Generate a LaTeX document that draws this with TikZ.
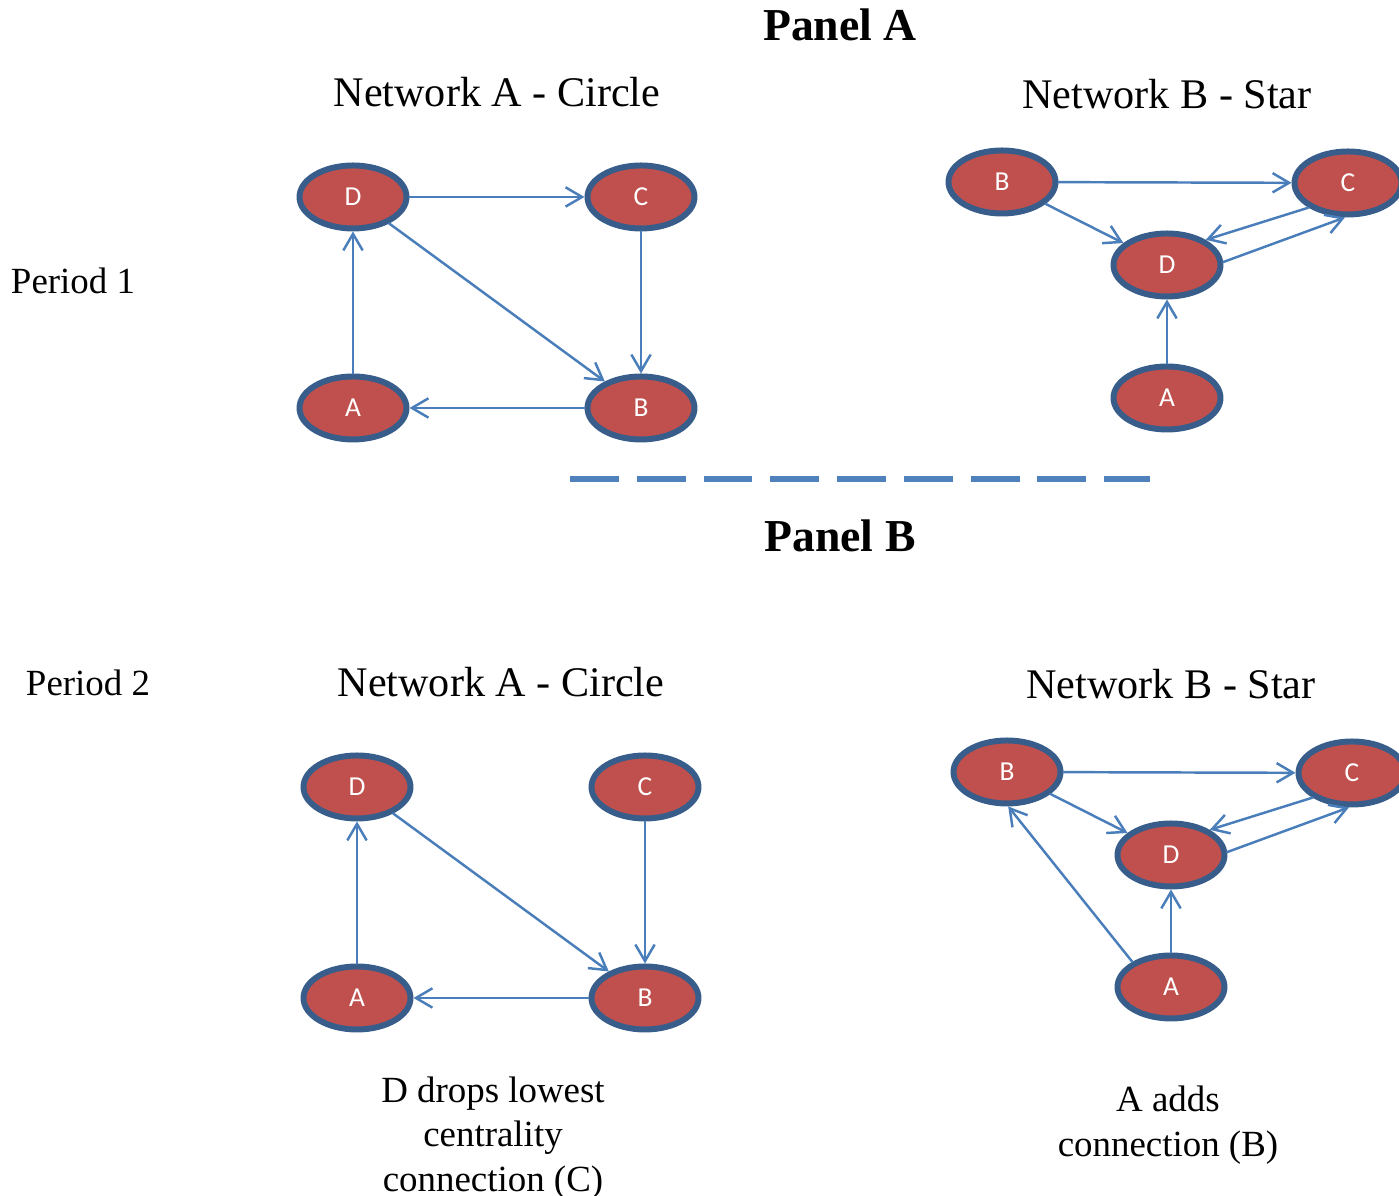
\documentclass[tikz,border=0pt]{standalone}
\usepackage{fontspec}
\setmainfont{Liberation Serif}
\newfontfamily\nodefont{Carlito}
\usetikzlibrary{shapes.geometric,arrows.meta}
\definecolor{NodeRed}{HTML}{C0504D}
\definecolor{NodeEdge}{HTML}{385D8A}
\definecolor{LinkBlue}{HTML}{4A7EBB}
\definecolor{RuleBlue}{HTML}{4F81BD}

\begin{document}
\begin{tikzpicture}[line cap=round,line join=round,
  agent/.style={ellipse,draw=NodeEdge,fill=NodeRed,line width=1.7pt,minimum width=10.7mm,minimum height=6.3mm,inner sep=0pt,text=white,font=\nodefont\fontsize{7.8}{9}\selectfont},
  link/.style={LinkBlue,line width=0.7pt,-{Straight Barb[length=4.7pt,width=5.5pt]}},
  heading/.style={font=\fontsize{12}{14}\selectfont},
  paneltitle/.style={font=\bfseries\fontsize{13}{15}\selectfont},
  note/.style={font=\fontsize{10.5}{12.7}\selectfont,align=center}]
  \useasboundingbox (0,0) rectangle (13.99,11.96);
  % titles and labels
  \node[paneltitle] (panA) at (8.40,11.71) {Panel A};
  \node[paneltitle] (panB) at (8.40,6.60) {Panel B};
  \node[heading] (c1title) at (4.97,11.04) {Network A - Circle};
  \node[heading] (s1title) at (11.67,11.02) {Network B - Star};
  \node[heading] (c2title) at (5.01,5.14) {Network A - Circle};
  \node[heading] (s2title) at (11.71,5.12) {Network B - Star};
  \node[note] (per1) at (0.73,9.15) {Period 1};
  \node[note] (per2) at (0.88,5.13) {Period 2};
  \node[note] (c2note) at (4.93,0.58) {D drops lowest\\centrality\\connection (C)};
  \node[note] (s2note) at (11.68,0.71) {A adds\\connection (B)};
  \coordinate (ruleL) at (5.70,7.17);\coordinate (ruleR) at (11.50,7.17);
  \draw[RuleBlue,line width=1.6pt,line cap=butt,dash pattern=on 13.9pt off 5.1pt] (ruleL) -- (ruleR);
  % period 1
  \node[agent] (c1D) at (3.53,9.99) {D};\node[agent] (c1C) at (6.41,9.99) {C};
  \node[agent] (c1A) at (3.53,7.88) {A};\node[agent] (c1B) at (6.41,7.88) {B};
  \node[agent] (s1B) at (10.02,10.14) {B};\node[agent] (s1C) at (13.48,10.13) {C};
  \node[agent] (s1D) at (11.67,9.31) {D};\node[agent] (s1A) at (11.67,7.98) {A};
  \foreach \u/\v in {c1D/c1C,c1C/c1B,c1D/c1B,c1B/c1A,c1A/c1D,s1B/s1C,s1B/s1D,s1A/s1D}{\draw[link] (\u) -- (\v);}
  \draw[link] (s1C.212) -- (s1D.33);\draw[link] (s1D.3) -- (s1C.265);
  % period 2
  \node[agent] (c2D) at (3.57,4.09) {D};\node[agent] (c2C) at (6.45,4.09) {C};
  \node[agent] (c2A) at (3.57,1.98) {A};\node[agent] (c2B) at (6.45,1.98) {B};
  \node[agent] (s2B) at (10.07,4.24) {B};\node[agent] (s2C) at (13.52,4.23) {C};
  \node[agent] (s2D) at (11.71,3.41) {D};\node[agent] (s2A) at (11.71,2.09) {A};
  \foreach \u/\v in {c2C/c2B,c2D/c2B,c2B/c2A,c2A/c2D,s2B/s2C,s2B/s2D,s2A/s2D}{\draw[link] (\u) -- (\v);}
  \draw[link] (s2C.212) -- (s2D.33);\draw[link] (s2D.3) -- (s2C.265);
  \draw[link] (s2A.147) -- (s2B.272);
\end{tikzpicture}
\end{document}
